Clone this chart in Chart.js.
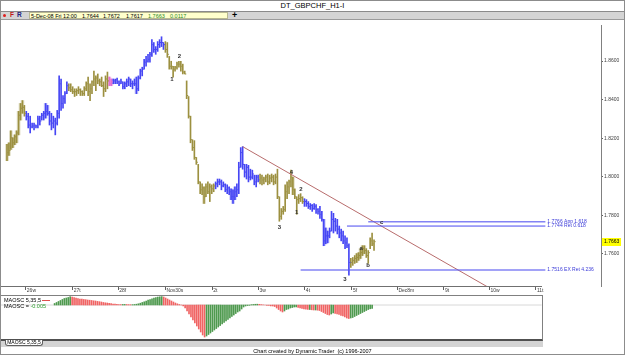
<!DOCTYPE html>
<html>
<head>
<meta charset="utf-8">
<script src="https://cdn.jsdelivr.net/npm/chart.js@4.4.1/dist/chart.umd.min.js"></script>
<style>
  html, body { margin: 0; padding: 0; background: #fff; }
  body { width: 625px; height: 355px; position: relative; overflow: hidden;
         font-family: "Liberation Sans", Arial, sans-serif; color: #000; }
  .abs { position: absolute; white-space: nowrap; }
  #frame { left: 0; top: 0; width: 625px; height: 355px; box-sizing: border-box;
           border: 1px solid #8c8c8c; pointer-events: none; z-index: 5; }
  #title { left: 0; top: 2px; width: 625px; text-align: center; font-size: 7.5px; line-height: 8px; }
  #toolbar { left: 1px; top: 11px; width: 623px; height: 9px; box-sizing: border-box;
             background: #d4d4d4; border-top: 1px solid #8a8a8a; border-bottom: 1px solid #9a9a9a; }
  #quote { left: 29px; top: 12px; width: 199px; height: 7px; box-sizing: border-box;
           background: #ffffcc; border: 1px solid #b8b890; }
  .tb { font-size: 5.5px; line-height: 6px; top: 12.5px; }
  #oscBox { left: 0; top: 295px; width: 543px; height: 46px; box-sizing: border-box;
            border: 1px solid #808080; border-bottom: 2px solid #505050; }
  .osc { font-size: 5.5px; line-height: 6px; }
</style>
</head>
<body>
<div id="frame" class="abs"></div>
<div id="title" class="abs">DT_GBPCHF_H1-I</div>

<div id="toolbar" class="abs"></div>
<div class="abs" style="left:3px;top:14px;width:3px;height:3px;border-radius:50%;background:#e02020;"></div>
<div class="abs tb" style="left:10px;top:12px;font-size:6.5px;font-weight:bold;color:#c01818;">F</div>
<div class="abs tb" style="left:17px;top:12px;font-size:6.5px;font-weight:bold;color:#202080;">R</div>
<div id="quote" class="abs"></div>
<div class="abs tb" style="left:31px;">5-Dec-08 Fri 12:00</div>
<div class="abs tb" style="left:82px;">1.7644</div>
<div class="abs tb" style="left:103px;">1.7672</div>
<div class="abs tb" style="left:126px;">1.7617</div>
<div class="abs tb" style="left:148px;color:#2a8a2a;">1.7663</div>
<div class="abs tb" style="left:170px;color:#2a8a2a;">0.0117</div>
<div class="abs" style="left:232px;top:10px;font-size:9px;line-height:10px;font-weight:bold;">+</div>

<div class="abs" style="left:0;top:20px;width:625px;height:276px;">
  <canvas id="priceChart" width="625" height="276"></canvas>
</div>
<div class="abs" style="left:0;top:286px;width:542px;height:1px;background:#707070;"></div>

<div id="oscBox" class="abs">
  <canvas id="oscChart" width="541" height="43"></canvas>
</div>
<div class="abs osc" style="left:4px;top:297px;">MAOSC 5,35,5</div>
<div class="abs" style="left:42px;top:300px;width:8px;height:1px;background:#e05050;"></div>
<div class="abs osc" style="left:4px;top:302.5px;">MAOSC = <span style="color:#2a9a2a;">-0.005</span></div>

<div class="abs" style="left:1px;top:341px;width:542px;height:6px;background:#d4d4d4;"></div>
<div class="abs osc" style="left:5px;top:340px;width:38px;height:6px;box-sizing:border-box;background:#fff;border:1px solid #606060;border-top:none;border-radius:0 0 3px 3px;font-size:5px;line-height:5px;text-align:center;">MAOSC 5,35,5</div>
<div class="abs osc" style="left:0;top:347.5px;width:625px;text-align:center;">Chart created by Dynamic Trader&nbsp; (c) 1996-2007</div>

<script>
  'use strict';

  // hourly GBPCHF bars, 25-Nov to 5-Dec 12:00 (bar index = hour)
  const barHigh = [
    1.8168, 1.8176, 1.8238, 1.8202, 1.8217, 1.8238, 1.8339, 1.8380, 1.8395, 1.8370,
    1.8339, 1.8329, 1.8314, 1.8278, 1.8278, 1.8268, 1.8314, 1.8314, 1.8329, 1.8339,
    1.8380, 1.8370, 1.8339, 1.8329, 1.8314, 1.8304, 1.8344, 1.8523, 1.8507, 1.8421,
    1.8441, 1.8492, 1.8482, 1.8482, 1.8467, 1.8456, 1.8456, 1.8467, 1.8456, 1.8446,
    1.8467, 1.8492, 1.8517, 1.8482, 1.8497, 1.8548, 1.8523, 1.8533, 1.8507, 1.8517,
    1.8492, 1.8523, 1.8543, 1.8517, 1.8507, 1.8507, 1.8507, 1.8512, 1.8497, 1.8507,
    1.8492, 1.8492, 1.8507, 1.8517, 1.8507, 1.8497, 1.8507, 1.8517, 1.8523, 1.8558,
    1.8568, 1.8609, 1.8624, 1.8635, 1.8645, 1.8711, 1.8696, 1.8675, 1.8701, 1.8711,
    1.8726, 1.8696, 1.8701, 1.8696, 1.8624, 1.8599, 1.8573, 1.8573, 1.8594, 1.8599,
    1.8599, 1.8584, 1.8548, 1.8497, 1.8416, 1.8314, 1.8192, 1.8187, 1.8100, 1.8064,
    1.7973, 1.7963, 1.7947, 1.7963, 1.7973, 1.7963, 1.7958, 1.7963, 1.7973, 1.7988,
    1.7988, 1.7983, 1.7973, 1.7963, 1.7958, 1.7947, 1.7937, 1.7932, 1.7947, 1.7963,
    1.8075, 1.8151, 1.8156, 1.8064, 1.8064, 1.8059, 1.8039, 1.8034, 1.8008, 1.8008,
    1.8008, 1.8014, 1.8008, 1.7998, 1.8008, 1.8014, 1.8008, 1.8014, 1.8008, 1.8014,
    1.8039, 1.7896, 1.7835, 1.7846, 1.7958, 1.7973, 1.7983, 1.8034, 1.7998, 1.7937,
    1.7896, 1.7907, 1.7912, 1.7896, 1.7886, 1.7881, 1.7871, 1.7861, 1.7856, 1.7861,
    1.7856, 1.7835, 1.7846, 1.7820, 1.7779, 1.7734, 1.7718, 1.7734, 1.7820, 1.7810,
    1.7784, 1.7779, 1.7744, 1.7728, 1.7718, 1.7693, 1.7683, 1.7652, 1.7576, 1.7581,
    1.7591, 1.7601, 1.7606, 1.7627, 1.7642, 1.7642, 1.7627, 1.7617, 1.7683, 1.7708,
    1.7672
  ];
  const barLow = [
    1.8083, 1.8110, 1.8141, 1.8151, 1.8166, 1.8176, 1.8217, 1.8294, 1.8329, 1.8314,
    1.8294, 1.8253, 1.8227, 1.8253, 1.8243, 1.8253, 1.8253, 1.8268, 1.8294, 1.8294,
    1.8304, 1.8319, 1.8268, 1.8243, 1.8253, 1.8217, 1.8268, 1.8304, 1.8344, 1.8355,
    1.8380, 1.8431, 1.8446, 1.8441, 1.8431, 1.8416, 1.8421, 1.8431, 1.8421, 1.8421,
    1.8421, 1.8446, 1.8421, 1.8395, 1.8431, 1.8472, 1.8446, 1.8482, 1.8472, 1.8467,
    1.8416, 1.8441, 1.8456, 1.8472, 1.8472, 1.8482, 1.8482, 1.8482, 1.8472, 1.8482,
    1.8456, 1.8456, 1.8467, 1.8472, 1.8467, 1.8456, 1.8472, 1.8431, 1.8446, 1.8507,
    1.8523, 1.8558, 1.8573, 1.8594, 1.8594, 1.8624, 1.8645, 1.8635, 1.8650, 1.8670,
    1.8675, 1.8660, 1.8645, 1.8619, 1.8558, 1.8558, 1.8517, 1.8548, 1.8558, 1.8568,
    1.8548, 1.8533, 1.8533, 1.8405, 1.8304, 1.8176, 1.8136, 1.8090, 1.8064, 1.7963,
    1.7912, 1.7907, 1.7861, 1.7896, 1.7912, 1.7871, 1.7912, 1.7922, 1.7937, 1.7947,
    1.7958, 1.7932, 1.7947, 1.7922, 1.7912, 1.7907, 1.7881, 1.7861, 1.7881, 1.7896,
    1.7912, 1.8049, 1.8039, 1.7998, 1.7988, 1.7973, 1.7983, 1.7988, 1.7958, 1.7947,
    1.7973, 1.7963, 1.7958, 1.7963, 1.7973, 1.7958, 1.7963, 1.7973, 1.7958, 1.7963,
    1.7886, 1.7769, 1.7779, 1.7805, 1.7820, 1.7886, 1.7912, 1.7947, 1.7907, 1.7886,
    1.7805, 1.7861, 1.7871, 1.7861, 1.7846, 1.7846, 1.7835, 1.7830, 1.7820, 1.7830,
    1.7810, 1.7805, 1.7784, 1.7769, 1.7642, 1.7652, 1.7657, 1.7683, 1.7718, 1.7708,
    1.7718, 1.7703, 1.7683, 1.7667, 1.7652, 1.7627, 1.7632, 1.7489, 1.7530, 1.7540,
    1.7550, 1.7555, 1.7566, 1.7576, 1.7591, 1.7601, 1.7581, 1.7550, 1.7627, 1.7642,
    1.7617
  ];
  const barClose = [
    1.8125, 1.8136, 1.8202, 1.8176, 1.8207, 1.8227, 1.8319, 1.8355, 1.8360, 1.8329,
    1.8314, 1.8268, 1.8258, 1.8263, 1.8268, 1.8263, 1.8299, 1.8289, 1.8319, 1.8329,
    1.8339, 1.8329, 1.8289, 1.8278, 1.8289, 1.8278, 1.8329, 1.8482, 1.8380, 1.8405,
    1.8431, 1.8472, 1.8461, 1.8451, 1.8441, 1.8441, 1.8446, 1.8451, 1.8441, 1.8431,
    1.8456, 1.8482, 1.8441, 1.8456, 1.8492, 1.8507, 1.8512, 1.8497, 1.8492, 1.8472,
    1.8456, 1.8507, 1.8497, 1.8482, 1.8492, 1.8497, 1.8502, 1.8492, 1.8482, 1.8492,
    1.8467, 1.8482, 1.8492, 1.8507, 1.8482, 1.8482, 1.8482, 1.8456, 1.8512, 1.8548,
    1.8558, 1.8594, 1.8599, 1.8609, 1.8635, 1.8685, 1.8660, 1.8660, 1.8685, 1.8696,
    1.8696, 1.8685, 1.8660, 1.8635, 1.8573, 1.8573, 1.8558, 1.8568, 1.8584, 1.8584,
    1.8573, 1.8543, 1.8533, 1.8421, 1.8314, 1.8192, 1.8151, 1.8100, 1.8075, 1.7973,
    1.7932, 1.7942, 1.7896, 1.7947, 1.7922, 1.7947, 1.7937, 1.7952, 1.7963, 1.7973,
    1.7973, 1.7952, 1.7958, 1.7932, 1.7942, 1.7922, 1.7896, 1.7896, 1.7922, 1.7932,
    1.8049, 1.8125, 1.8064, 1.8024, 1.8049, 1.7998, 1.7998, 1.8014, 1.7973, 1.7998,
    1.7983, 1.7993, 1.7983, 1.7988, 1.7998, 1.7973, 1.7993, 1.7998, 1.7973, 1.7998,
    1.7896, 1.7795, 1.7820, 1.7830, 1.7922, 1.7947, 1.7973, 1.7998, 1.7932, 1.7896,
    1.7881, 1.7886, 1.7891, 1.7871, 1.7871, 1.7861, 1.7846, 1.7851, 1.7835, 1.7846,
    1.7830, 1.7820, 1.7805, 1.7779, 1.7667, 1.7693, 1.7693, 1.7718, 1.7779, 1.7769,
    1.7744, 1.7728, 1.7708, 1.7693, 1.7667, 1.7657, 1.7642, 1.7555, 1.7555, 1.7566,
    1.7576, 1.7581, 1.7591, 1.7606, 1.7627, 1.7617, 1.7591, 1.7606, 1.7667, 1.7652,
    1.7663
  ];

  // colour runs: [code, first bar index]
  const colorRuns = [['o', 0], ['b', 10], ['o', 32], ['p', 53], ['b', 55], ['o', 82],
                     ['b', 108], ['o', 131], ['b', 154], ['o', 178]];
  const shadedBars = [0, 1, 2, 3, 4, 5, 6, 7, 8, 20, 21, 53, 54, 67, 102, 116, 117, 118,
                      148, 164, 165, 166, 181, 182, 183, 184, 185];

  // MAOSC 5,35,5 histogram, starting at bar 27
  const oscStart = 27;
  const oscValues = [
    0.0023, 0.0038, 0.0053, 0.0068, 0.0083, 0.0098, 0.0105, 0.0113, 0.0125,
    0.0120, 0.0113, 0.0105, 0.0098, 0.0090, 0.0087, 0.0083, 0.0080, 0.0075, 0.0072,
    0.0068, 0.0063, 0.0060, 0.0054, 0.0050, 0.0045,
    0.0038, 0.0033, 0.0030, 0.0024, 0.0020,
    0.0015, 0.0012, 0.0009, 0.0008, 0.0006, 0.0008, 0.0009, 0.0008, 0.0006, 0.0005,
    0.0005, 0.0008, 0.0012, 0.0018,
    0.0027, 0.0038, 0.0048, 0.0060, 0.0072, 0.0083, 0.0093, 0.0102, 0.0111, 0.0117,
    0.0123, 0.0126,
    0.0120, 0.0105, 0.0090, 0.0075, 0.0060, 0.0045, 0.0030,
    0.0018, 0.0008, 0.0000,
    -0.0015, -0.0045, -0.0090, -0.0135, -0.0180, -0.0225, -0.0270, -0.0315, -0.0360,
    -0.0405, -0.0450, -0.0480,
    -0.0465, -0.0443, -0.0420, -0.0398, -0.0375, -0.0353, -0.0330, -0.0308, -0.0285,
    -0.0263, -0.0240, -0.0218, -0.0195, -0.0173, -0.0150, -0.0128, -0.0105, -0.0090,
    -0.0060, -0.0030, -0.0015, -0.0008,
    -0.0005, 0.0005, 0.0008, 0.0011, 0.0012, 0.0009, 0.0006, 0.0003, 0.0000, -0.0005,
    -0.0008, -0.0012, -0.0015, -0.0023,
    -0.0045, -0.0068, -0.0090, -0.0105, -0.0090, -0.0068,
    -0.0060, -0.0045, -0.0038, -0.0030, -0.0030, -0.0038,
    -0.0045, -0.0053, -0.0060, -0.0063, -0.0068, -0.0068, -0.0072, -0.0075, -0.0075,
    -0.0078, -0.0083,
    -0.0098, -0.0113, -0.0128, -0.0143, -0.0150,
    -0.0135, -0.0120, -0.0128, -0.0135, -0.0143, -0.0158, -0.0165, -0.0180,
    -0.0195, -0.0203, -0.0195, -0.0188,
    -0.0173, -0.0158, -0.0143, -0.0128, -0.0113, -0.0098, -0.0083, -0.0068, -0.0057,
    -0.0050
  ];

  // axes
  const priceTicks = [1.76, 1.78, 1.80, 1.82, 1.84, 1.86];
  const dayTicks = [9.75, 34, 57.6, 82, 106.3, 130.2, 154.2, 178.6, 202.1, 226.2, 249.8, 273.8];
  const dayLabels = ['26w', '27t', '28f', 'Nov30s', '2t', '3w', '4t', '5f', 'Dec8m', '9t', '10w', '11t'];

  // drawn studies
  const trendBar = [122, 248.5];
  const trendPrice = [1.8156, 1.7430];
  const levelPrice = [1.7766, 1.7744, 1.7516];
  const levelFrom = [187, 176, 152];
  const levelTo = 278.7;
  const levelText = ['1.7766 App 1.618', '1.7744 Ret 0.618', '1.7516 EX Ret 4.236'];
  const waveText = ['1', '2', '3', '4', '1', '2', '3', 'a', 'b', 'c'];
  const waveBar = [85.4, 89.3, 141, 147.3, 150, 152.1, 174.9, 183.3, 186.9, 194];
  const wavePrice = [1.8504, 1.8623, 1.7735, 1.8024, 1.7815, 1.7934, 1.7469, 1.7630, 1.7540, 1.7761];

  const palette = { o: '#9c9040', b: '#4646f4', p: '#e070d0' };
  const shadePalette = { o: 'rgba(170,160,90,0.35)', b: 'rgba(90,90,240,0.3)', p: 'rgba(240,120,220,0.45)' };

  function colorCode(k) {
    let code = colorRuns[0][0];
    colorRuns.forEach(run => { if (k >= run[1]) code = run[0]; });
    return code;
  }

  Chart.defaults.font.family = '"Liberation Sans", Arial, sans-serif';

  function fixAxis(size, prop) {
    return function(scale) {
      scale[prop] = size;
      scale.paddingTop = 0; scale.paddingBottom = 0;
      scale.paddingLeft = 0; scale.paddingRight = 0;
    };
  }

  const annotatePlugin = {
    id: 'annotate',
    afterDatasetsDraw(chart) {
      const { ctx, scales: { x, y } } = chart;
      ctx.save();
      ctx.textBaseline = 'middle';

      ctx.font = 'bold 6px "Liberation Sans", Arial';
      ctx.textAlign = 'center';
      ctx.fillStyle = '#303030';
      waveText.forEach((t, i) => {
        ctx.fillText(t, x.getPixelForValue(waveBar[i]), y.getPixelForValue(wavePrice[i]));
      });

      ctx.font = '5px "Liberation Sans", Arial';
      ctx.textAlign = 'left';
      ctx.fillStyle = '#3a3ad8';
      levelText.forEach((t, i) => {
        ctx.fillText(t, x.getPixelForValue(levelTo) + 2, y.getPixelForValue(levelPrice[i]));
      });

      // current price marker on the axis
      const last = barClose[barClose.length - 1];
      const py = Math.round(y.getPixelForValue(last));
      ctx.fillStyle = '#ffff00';
      ctx.fillRect(chart.chartArea.right + 1, py - 4, 19, 8);
      ctx.fillStyle = '#000';
      ctx.fillText(last.toFixed(4), chart.chartArea.right + 3, py);
      ctx.restore();
    }
  };

  const hlData = barHigh.map((h, k) => ({ x: k, y: [barLow[k], h] }));
  const shadeData = shadedBars.map(k => ({ x: k, y: [barLow[k], barHigh[k]] }));

  const priceChart = new Chart(document.getElementById('priceChart'), {
    type: 'bar',
    data: {
      datasets: [
        {
          type: 'bar',
          data: shadeData,
          grouped: false,
          barThickness: 3,
          backgroundColor: shadedBars.map(k => shadePalette[colorCode(k)]),
          borderWidth: 0,
          order: 5
        },
        {
          type: 'bar',
          data: hlData,
          grouped: false,
          barThickness: 1,
          backgroundColor: hlData.map((_, k) => palette[colorCode(k)]),
          borderWidth: 0,
          order: 4
        },
        {
          type: 'line',
          data: barClose.map((c, k) => ({ x: k + 0.5, y: c })),
          showLine: false,
          pointStyle: 'line',
          pointRadius: 0.6,
          pointBorderWidth: 1,
          pointBorderColor: barClose.map((_, k) => palette[colorCode(k)]),
          order: 3
        },
        {
          type: 'line',
          data: trendBar.map((b, i) => ({ x: b, y: trendPrice[i] })),
          borderColor: '#b86c6c',
          borderWidth: 1,
          pointRadius: 0,
          order: 2
        },
        ...levelPrice.map((p, i) => ({
          type: 'line',
          data: [{ x: levelFrom[i], y: p }, { x: levelTo, y: p }],
          borderColor: i === 1 ? '#4a4af0' : 'rgba(90,90,240,0.75)',
          borderWidth: i === 1 ? 1 : 1.6,
          pointRadius: 0,
          order: 1
        }))
      ]
    },
    options: {
      responsive: false,
      animation: false,
      events: [],
      layout: { padding: 0 },
      plugins: { legend: { display: false }, tooltip: { enabled: false } },
      scales: {
        x: {
          type: 'linear',
          position: 'bottom',
          offset: false,
          min: -1.03,
          max: 307.5,
          afterFit: fixAxis(10, 'height'),
          afterBuildTicks: scale => { scale.ticks = dayTicks.map(v => ({ value: v })); },
          border: { display: false },
          grid: { display: true, offset: false, drawOnChartArea: false, drawTicks: true, tickLength: 4, color: '#606060' },
          ticks: {
            autoSkip: false,
            maxRotation: 0,
            align: 'start',
            padding: -2,
            labelOffset: 1,
            color: '#404040',
            font: { size: 5 },
            callback: (v, i) => dayLabels[i]
          }
        },
        y: {
          type: 'linear',
          position: 'right',
          min: 1.7433,
          max: 1.8787,
          afterFit: fixAxis(24, 'width'),
          afterBuildTicks: scale => { scale.ticks = priceTicks.map(v => ({ value: v })); },
          border: { display: true, color: '#808080' },
          grid: { display: true, drawOnChartArea: false, drawTicks: true, tickLength: 2, color: '#606060' },
          ticks: {
            padding: 1,
            color: '#404040',
            font: { size: 5 },
            callback: v => v.toFixed(4)
          }
        }
      }
    },
    plugins: [annotatePlugin]
  });

  const oscData = oscValues.map((v, i) => ({ x: oscStart + i, y: v }));
  const oscColors = oscValues.map((v, i) => (i === 0 || v >= oscValues[i - 1]) ? '#4f9a4f' : '#f06464');

  const oscChart = new Chart(document.getElementById('oscChart'), {
    type: 'bar',
    data: {
      datasets: [
        {
          type: 'line',
          data: [{ x: -0.5, y: 0 }, { x: 277, y: 0 }],
          borderColor: '#d8d8d8',
          borderWidth: 1,
          pointRadius: 0,
          order: 2
        },
        {
          type: 'bar',
          data: oscData,
          grouped: false,
          barThickness: 1,
          backgroundColor: oscColors,
          borderWidth: 0,
          order: 1
        }
      ]
    },
    options: {
      responsive: false,
      animation: false,
      events: [],
      layout: { padding: 0 },
      plugins: { legend: { display: false }, tooltip: { enabled: false } },
      scales: {
        x: { type: 'linear', display: false, offset: false, grid: { offset: false }, min: -0.513, max: 277.2 },
        y: { type: 'linear', display: false, min: -0.051, max: 0.0135 }
      }
    }
  });
</script>
</body>
</html>
